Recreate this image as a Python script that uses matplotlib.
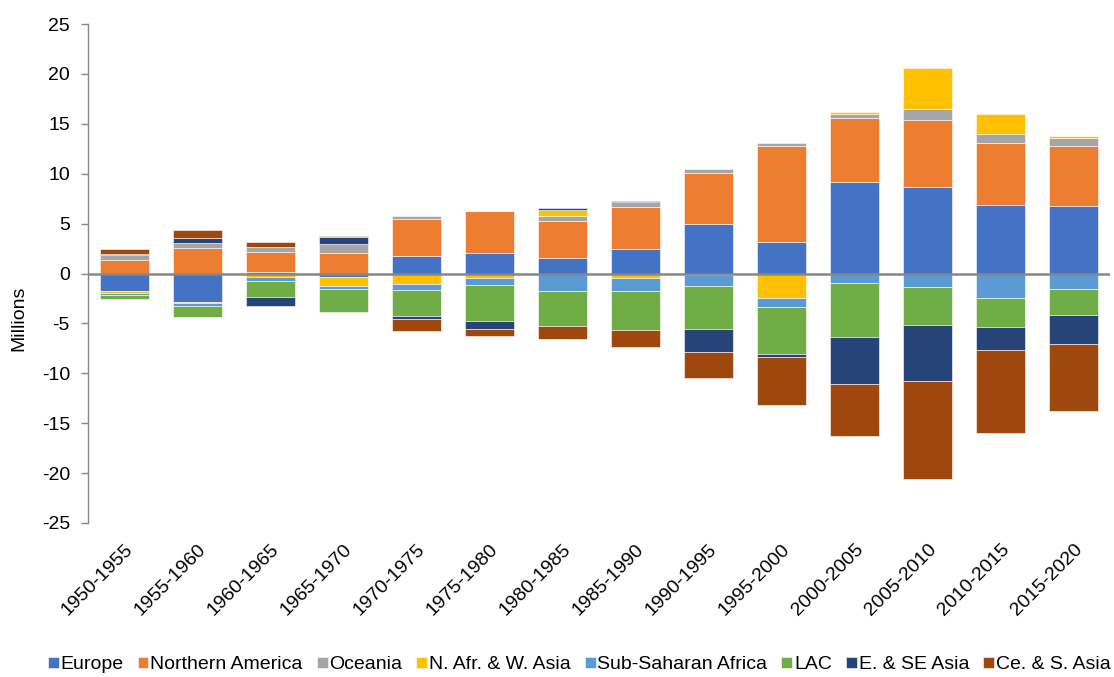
import numpy as np
import matplotlib
matplotlib.use('Agg')
import matplotlib.pyplot as plt

# ── Data (millions, net migration by region and period) ────────────────
periods = ['1950-1955', '1955-1960', '1960-1965', '1965-1970', '1970-1975',
           '1975-1980', '1980-1985', '1985-1990', '1990-1995', '1995-2000',
           '2000-2005', '2005-2010', '2010-2015', '2015-2020']

regions = ['Europe', 'Northern America', 'Oceania', 'N. Afr. & W. Asia',
           'Sub-Saharan Africa', 'LAC', 'E. & SE Asia', 'Ce. & S. Asia']

europe    = [-1.73, -2.90, 0.17, -0.40, 1.80, 2.03, 1.53, 2.43, 4.97, 3.13, 9.13, 8.63, 6.90, 6.80]
n_america = [1.40, 2.57, 2.00, 2.10, 3.63, 4.23, 3.77, 4.20, 5.13, 9.67, 6.43, 6.80, 6.20, 5.97]
oceania   = [0.43, 0.50, 0.50, 0.83, 0.33, 0.03, 0.43, 0.53, 0.40, 0.27, 0.47, 1.10, 0.93, 0.77]
nafr_wasia = [-0.20, -0.05, -0.40, -0.83, -1.07, -0.50, 0.67, -0.47, -0.10, -2.47, 0.17, 4.07, 1.97, 0.23]
ssa       = [-0.23, -0.30, -0.37, -0.37, -0.60, -0.70, -1.77, -1.30, -1.17, -0.90, -0.97, -1.37, -2.50, -1.57]
lac       = [-0.40, -1.13, -1.60, -2.23, -2.63, -3.53, -3.47, -3.93, -4.33, -4.70, -5.37, -3.80, -2.83, -2.63]
e_se_asia = [0.10, 0.50, -0.93, 0.73, -0.23, -0.80, 0.13, 0.13, -2.23, -0.30, -4.73, -5.60, -2.30, -2.87]
ce_s_asia = [0.57, 0.83, 0.50, 0.10, -1.27, -0.77, -1.37, -1.67, -2.63, -4.77, -5.17, -9.83, -8.37, -6.73]

colors = ['#4472C4', '#ED7D31', '#A5A5A5', '#FFC000',
          '#5B9BD5', '#70AD47', '#264478', '#9E480E']

series = [europe, n_america, oceania, nafr_wasia, ssa, lac, e_se_asia, ce_s_asia]

plt.rcParams['font.family'] = ['Liberation Sans', 'DejaVu Sans']
plt.rcParams['axes.unicode_minus'] = False

fig = plt.figure(figsize=(11.14, 6.77), dpi=100)
ax = fig.add_axes([0.079, 0.2275, 0.9174, 0.737])

x = np.arange(len(periods))
pos_base = np.zeros(len(periods))
neg_base = np.zeros(len(periods))
for name, vals, col in zip(regions, series, colors):
    v = np.array(vals)
    bottom = np.where(v >= 0, pos_base, neg_base)
    ax.bar(x, v, width=0.67, bottom=bottom, color=col, label=name,
           edgecolor='white', linewidth=0.4, zorder=2)
    pos_base += np.where(v >= 0, v, 0)
    neg_base += np.where(v < 0, v, 0)

ax.axhline(0, color='#878787', lw=1.8, zorder=3)

ax.set_xlim(-0.5, len(periods) - 0.5)
ax.set_ylim(-25, 25)
ax.set_yticks(np.arange(-25, 26, 5))
ax.set_xticks(x)
ax.set_xticklabels(periods, rotation=45, ha='right', va='top',
                   rotation_mode='anchor')
ax.tick_params(axis='x', length=0, pad=13, labelsize=14)
ax.tick_params(axis='y', length=5, width=1, color='#878787', labelsize=14, pad=8)

for s in ['top', 'right', 'bottom']:
    ax.spines[s].set_visible(False)
ax.spines['left'].set_color('#878787')
ax.spines['left'].set_linewidth(1)

fig.text(0.017, 0.53, 'Millions', rotation=90, va='center', ha='center', fontsize=14)

fig.legend(loc='lower center', bbox_to_anchor=(0.52, -0.012), ncol=8,
           frameon=False, fontsize=14, handlelength=0.55, handleheight=0.55,
           handletextpad=0.1, columnspacing=0.72, borderaxespad=0.2)

fig.savefig('out.png', dpi=100)
